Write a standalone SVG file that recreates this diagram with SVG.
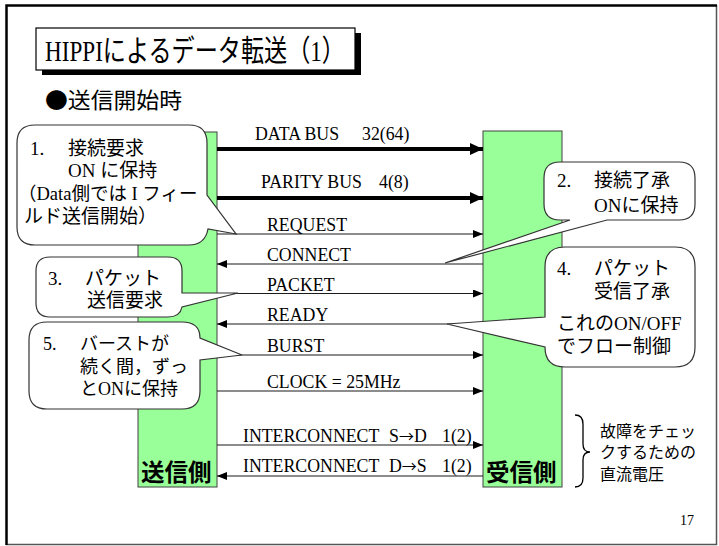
<svg xmlns="http://www.w3.org/2000/svg" width="719" height="546" viewBox="0 0 719 546">
<defs>
<marker id="ah" markerUnits="userSpaceOnUse" viewBox="0 0 10 8" markerWidth="10" markerHeight="8" refX="10" refY="4" orient="auto"><path d="M0,0 L10,4 L0,8 Z" fill="#000"/></marker>
<marker id="ahb" markerUnits="userSpaceOnUse" viewBox="0 0 13 12" markerWidth="13" markerHeight="12" refX="13" refY="6" orient="auto"><path d="M0,0 L13,6 L0,12 Z" fill="#000"/></marker>
</defs>
<style>
.t{font-family:"Liberation Serif","Noto Sans CJK JP",serif;fill:#000}
.j{font-family:"Noto Sans CJK JP",sans-serif}
.lab{font-size:17.8px}
.co{font-size:19px}
.bar{fill:#99FF99;stroke:#404040;stroke-width:1}
.thin{stroke:#1a1a1a;stroke-width:1.2;fill:none;marker-end:url(#ah)}
.thick{stroke:#000;stroke-width:4;fill:none;marker-end:url(#ahb)}
.call{fill:#fff;stroke:#333;stroke-width:1.2}
.side{font-family:"Noto Sans CJK JP",sans-serif;font-weight:bold;font-size:23.5px;fill:#000}
</style>
<rect x="0" y="0" width="719" height="546" fill="#fff"/>
<g id="frame">
<path d="M716.5,5 V544.5 H6" fill="none" stroke="#555" stroke-width="1.5"/>
<path d="M6.5,545 V5.5 H717" fill="none" stroke="#000" stroke-width="2.5"/>
</g>
<g id="title">
<rect x="42" y="33" width="319" height="42" fill="#000"/>
<rect x="36" y="28" width="319" height="42" fill="#fff" stroke="#000" stroke-width="1.2"/>
<text class="t" x="45" y="61" font-size="30" textLength="300" lengthAdjust="spacingAndGlyphs">HIPPIによるデータ転送（1）</text>
</g>
<text class="t j" x="45" y="108" font-size="22" textLength="137" lengthAdjust="spacingAndGlyphs">●送信開始時</text>
<g id="sender"><rect class="bar" x="138" y="132" width="79" height="355"/></g>
<g id="receiver"><rect class="bar" x="483" y="131" width="79" height="356"/></g>
<g id="connectors">
<line class="thick" x1="217" y1="149" x2="483" y2="149"/>
<line class="thick" x1="217" y1="198" x2="483" y2="198"/>
<line class="thin" x1="217" y1="234" x2="483" y2="234"/>
<line class="thin" x1="483" y1="264" x2="217" y2="264"/>
<line class="thin" x1="217" y1="293.5" x2="483" y2="293.5"/>
<line class="thin" x1="483" y1="324" x2="217" y2="324"/>
<line class="thin" x1="217" y1="355" x2="483" y2="355"/>
<line class="thin" x1="217" y1="391" x2="483" y2="391"/>
<line class="thin" x1="217" y1="445" x2="483" y2="445"/>
<line class="thin" x1="483" y1="476" x2="217" y2="476"/>
</g>
<g id="labels" class="t lab">
<text x="255" y="140">DATA BUS<tspan x="362">32(64)</tspan></text>
<text x="261" y="188">PARITY BUS<tspan x="379">4(8)</tspan></text>
<text x="267" y="231">REQUEST</text>
<text x="267" y="261">CONNECT</text>
<text x="267" y="291">PACKET</text>
<text x="267" y="321">READY</text>
<text x="267" y="352">BURST</text>
<text x="267" y="388">CLOCK = 25MHz</text>
<text x="243" y="442">INTERCONNECT<tspan x="389">S</tspan><tspan class="j" font-size="15">→</tspan><tspan>D</tspan><tspan x="442">1(2)</tspan></text>
<text x="243" y="472">INTERCONNECT<tspan x="389">D</tspan><tspan class="j" font-size="15">→</tspan><tspan>S</tspan><tspan x="442">1(2)</tspan></text>
</g>
<g id="callout1">
<path class="call" d="M35,125 H189 Q207,125 207,143 V195 L236,234 L208,229 Q205,245 189,245 H35 Q17,245 17,227 V143 Q17,125 35,125 Z"/>
<text class="t co" y="155"><tspan x="30">1.</tspan><tspan x="68">接続要求</tspan></text>
<text class="t co" x="68" y="177">ON に保持</text>
<text class="t" font-size="18.5" x="18" y="200">（Data側では I フィー</text>
<text class="t co" x="24" y="223">ルド送信開始）</text>
</g>
<g id="callout2">
<path class="call" d="M560,162 H679 Q695,162 695,178 V204 Q695,220 679,220 H607 L445,263 L570,220 H560 Q544,220 544,204 V178 Q544,162 560,162 Z"/>
<text class="t co" y="187"><tspan x="557">2.</tspan><tspan x="594">接続了承</tspan></text>
<text class="t co" x="594" y="212">ONに保持</text>
</g>
<g id="callout3">
<path class="call" d="M50,257 H168 Q182,257 182,271 V293 L238,293 L182,307 Q180,317 168,317 H50 Q36,317 36,303 V271 Q36,257 50,257 Z"/>
<text class="t co" y="285"><tspan x="48">3.</tspan><tspan x="85">パケット</tspan></text>
<text class="t co" x="87" y="307">送信要求</text>
</g>
<g id="callout4">
<path class="call" d="M565,247 H675 Q695,247 695,267 V347 Q695,367 675,367 H565 Q545,367 545,347 L447,324 L545,317 V267 Q545,247 565,247 Z"/>
<text class="t co" y="275"><tspan x="557">4.</tspan><tspan x="594">パケット</tspan></text>
<text class="t co" x="594" y="298">受信了承</text>
<text class="t co" x="557" y="330">これのON/OFF</text>
<text class="t co" x="557" y="353">でフロー制御</text>
</g>
<g id="callout5">
<path class="call" d="M47,322 H182 Q200,322 200,338 L242,355 L200,360 V391 Q200,409 182,409 H47 Q29,409 29,391 V340 Q29,322 47,322 Z"/>
<text class="t" font-size="18" y="350"><tspan x="43">5.</tspan><tspan x="80">バーストが</tspan></text>
<text class="t" font-size="18" x="80" y="373">続く間，ずっ</text>
<text class="t" font-size="18" x="80" y="395">とONに保持</text>
</g>
<text class="side" x="141" y="481">送信側</text>
<text class="side" x="486" y="481">受信側</text>
<g id="note">
<path d="M575,415 Q583,415 583,424 V444 Q583,452 590,452 Q583,452 583,460 V478 Q583,487 575,487" fill="none" stroke="#000" stroke-width="1.3"/>
<text class="t" font-size="16" fill="#222" x="600" y="437">故障をチェッ</text>
<text class="t" font-size="16" fill="#222" x="600" y="458">クするための</text>
<text class="t" font-size="16" fill="#222" x="600" y="480">直流電圧</text>
</g>
<text class="t" font-size="14" x="680" y="525">17</text>
</svg>
